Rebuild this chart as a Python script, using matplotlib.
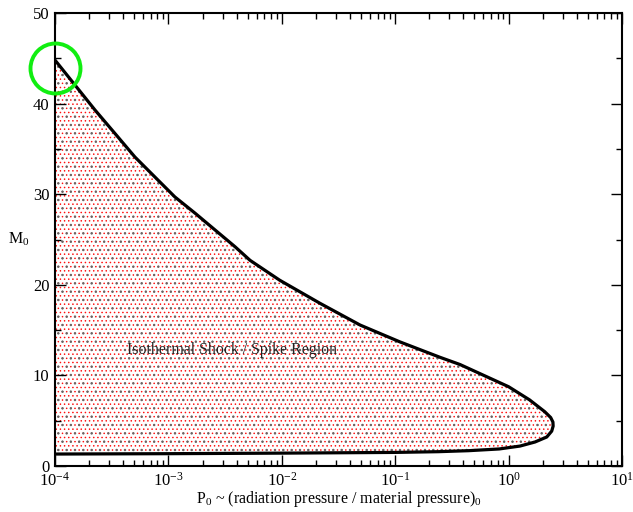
import numpy as np
import matplotlib
matplotlib.use("Agg")
import matplotlib.pyplot as plt
from matplotlib.ticker import LogLocator, MultipleLocator

# boundary of the region, traversed from top-left, around the nose, back to bottom-left
P0 = [1.0e-4, 1.5e-4, 2.25e-4, 3.38e-4, 5.07e-4, 7.6e-4, 1.14e-3, 1.72e-3, 2.58e-3,
      3.87e-3, 5.25e-3, 9.6e-3, 2.17e-2, 4.9e-2, 0.110, 0.248, 0.373, 0.558,
      1.0, 1.53, 2.08, 2.35, 2.46, 2.47, 2.40, 2.17, 1.71, 1.26, 0.826, 0.443, 0.24,
      0.1, 1e-2, 1e-3, 1e-4]
M0 = [44.8, 42.05, 39.3, 36.7, 34.1, 31.9, 29.7, 27.9, 26.05,
      24.2, 22.7, 20.5, 17.96, 15.56, 13.7, 12.0, 11.2, 10.2,
      8.75, 7.3, 6.0, 5.35, 4.85, 4.4, 3.85, 3.2, 2.65, 2.2, 1.88, 1.69, 1.58,
      1.5, 1.42, 1.36, 1.32]

xlim = (1e-4, 10)
ylim = (0, 50)
yticks = [0, 10, 20, 30, 40, 50]
region_label = "Isothermal Shock / Spike Region"
xlabel = r"P$_0$ ~ (radiation pressure / material pressure)$_0$"
ylabel = r"M$_0$"
circle_pt = (1e-4, 43.9)

plt.rcParams['font.family'] = ['Liberation Serif', 'DejaVu Serif']
plt.rcParams['mathtext.fontset'] = 'custom'
plt.rcParams['mathtext.rm'] = 'Liberation Serif'
plt.rcParams['mathtext.it'] = 'Liberation Serif:italic'
plt.rcParams['mathtext.bf'] = 'Liberation Serif:bold'
plt.rcParams['hatch.linewidth'] = 0.55

fig = plt.figure(figsize=(6.33, 5.12), dpi=100)
ax = fig.add_axes([55/633, 1-466/512, (622-55)/633, (466-13)/512])

ax.fill(P0, M0, facecolor='white', edgecolor='#ff1010', hatch='....', linewidth=0)
ax.fill(P0, M0, facecolor='none', edgecolor='#666666', hatch='..', linewidth=0)
ax.plot(P0, M0, color='black', lw=2.3, solid_joinstyle='round')

ax.set_xscale('log')
ax.set_xlim(*xlim)
ax.set_ylim(*ylim)
ax.set_yticks(yticks)
ax.yaxis.set_minor_locator(MultipleLocator(5))
ax.xaxis.set_major_locator(LogLocator(base=10, numticks=20))
ax.xaxis.set_minor_locator(LogLocator(base=10, subs=np.arange(2, 10), numticks=20))

ax.tick_params(which='both', direction='in', top=True, right=True, labelsize=12, width=1.0)
ax.tick_params(which='major', length=8, pad=4)
ax.tick_params(which='minor', length=4)
for s in ax.spines.values():
    s.set_linewidth(1.5)

ax.text(4.3e-4, 12.8, region_label, fontsize=11.4, va='center', ha='left', color='#222222')
ax.set_xlabel(xlabel, fontsize=11.5, labelpad=0)
ax.set_ylabel(ylabel, fontsize=11.5, rotation=0, labelpad=10, va='center')

ax.plot([circle_pt[0]], [circle_pt[1]], marker='o', ms=36, mfc='none', mec='#11ee11',
        mew=2.8, clip_on=False, zorder=10)

fig.savefig('out.png', dpi=100)
